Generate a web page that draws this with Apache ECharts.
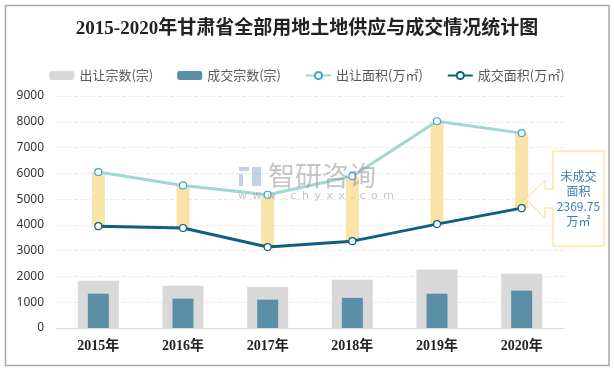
<!DOCTYPE html>
<html><head><meta charset="utf-8">
<script src="https://cdn.jsdelivr.net/npm/echarts@6/dist/echarts.min.js"></script>
<style>html,body{margin:0;padding:0;background:#fff}#c{width:614px;height:370px}</style>
</head><body><div id="c"></div>
<script>
const categories = ['2015年','2016年','2017年','2018年','2019年','2020年'];
const supplyCount = [1830, 1640, 1600, 1870, 2260, 2100];
const dealCount = [1330, 1140, 1100, 1170, 1330, 1450];
const supplyArea = [6050, 5530, 5170, 5890, 8020, 7560];
const dealArea = [3950, 3880, 3140, 3370, 4030, 4650];
const yTicks = {min: 0, max: 9000, interval: 1000};
const calloutText = '未成交\n面积\n2369.75\n万㎡';

const bandData = categories.map((c, i) => [i, dealArea[i], supplyArea[i]]);

const chart = echarts.init(document.getElementById('c'), null, {renderer: 'canvas'});
chart.setOption({
  animation: false,
  backgroundColor: '#fff',
  title: {
    text: '2015-2020年甘肃省全部用地土地供应与成交情况统计图',
    left: 'center', top: 15,
    textStyle: {fontFamily: '"Liberation Serif","Noto Sans CJK SC"', fontWeight: 'bold', fontSize: 19, color: '#222'}
  },
  legend: {
    top: 64, left: 'center', itemWidth: 25, itemHeight: 9, itemGap: 24,
    textStyle: {fontSize: 13, color: '#595959', fontFamily: '"Noto Sans CJK SC"'},
    data: ['出让宗数(宗)', '成交宗数(宗)', '出让面积(万㎡)', '成交面积(万㎡)']
  },
  grid: {left: 56, right: 50, top: 96, bottom: 42},
  xAxis: [{
    type: 'category', data: categories,
    axisLine: {lineStyle: {color: '#d9d9d9', width: 1}},
    axisTick: {show: false},
    axisLabel: {margin: 11, fontSize: 14, fontWeight: 'bold', color: '#222', fontFamily: '"Liberation Serif","Noto Sans CJK SC"'}
  }, {
    type: 'category', data: categories, show: false
  }],
  yAxis: {
    type: 'value', min: yTicks.min, max: yTicks.max, interval: yTicks.interval,
    axisLine: {show: false}, axisTick: {show: false},
    axisLabel: {margin: 12, fontSize: 12, color: '#333', fontFamily: '"Noto Sans"', formatter: v => String(v)},
    splitLine: {lineStyle: {color: '#ececec', type: 'dashed'}}
  },
  series: [
    {name: '出让宗数(宗)', type: 'bar', xAxisIndex: 0, data: supplyCount, barWidth: 41, itemStyle: {color: '#d9d9d9'}, z: 1},
    {name: '成交宗数(宗)', type: 'bar', xAxisIndex: 1, data: dealCount, barWidth: 21, itemStyle: {color: '#5b8fa7'}, z: 2},
    {
      name: 'band', type: 'custom', xAxisIndex: 0, data: bandData, z: 2,
      renderItem: function (params, api) {
        const lo = api.coord([api.value(0), api.value(1)]);
        const hi = api.coord([api.value(0), api.value(2)]);
        const w = 13;
        return {type: 'rect', shape: {x: lo[0] - w / 2, y: hi[1], width: w, height: lo[1] - hi[1]},
          style: {fill: '#f9e3a8'}};
      },
      encode: {x: 0, y: [1, 2]}, silent: true
    },
    {name: '出让面积(万㎡)', type: 'line', data: supplyArea, z: 4,
      lineStyle: {color: '#9fd8d2', width: 3}, itemStyle: {color: '#fff', borderColor: '#3aa6d6', borderWidth: 1.2},
      symbol: 'circle', symbolSize: 7, showAllSymbol: true},
    {name: '成交面积(万㎡)', type: 'line', data: dealArea, z: 4,
      lineStyle: {color: '#0e5f80', width: 3}, itemStyle: {color: '#fff', borderColor: '#0e5f80', borderWidth: 1.2},
      symbol: 'circle', symbolSize: 7, showAllSymbol: true}
  ],
  graphic: [
    {type: 'rect', shape: {x: 5.5, y: 5.5, width: 603.5, height: 360}, style: {fill: null, stroke: '#a9a9a9', lineWidth: 1.5}, silent: true, z: 100},
    {type: 'text', left: 268, top: 162, style: {text: '智研咨询', fontSize: 27, fill: 'rgba(150,150,150,0.55)', fontFamily: '"Noto Sans CJK SC"'}, z: 50},
    {type: 'text', left: 238, top: 191, style: {text: 'www.chyxx.com'.split('').join('\u2002'), fontSize: 11, fill: 'rgba(150,150,150,0.55)', fontFamily: '"DejaVu Sans"'}, z: 50},
    {type: 'rect', shape: {x: 239, y: 167, width: 10, height: 4}, style: {fill: 'rgba(140,165,205,0.5)'}, z: 50},
    {type: 'rect', shape: {x: 239, y: 174, width: 4, height: 12}, style: {fill: 'rgba(140,165,205,0.5)'}, z: 50},
    {type: 'rect', shape: {x: 252, y: 167, width: 9, height: 19}, style: {fill: 'rgba(140,165,205,0.5)'}, z: 50},
    {type: 'polygon', shape: {points: [[553,151],[604,151],[604,246],[553,246],[553,208],[545,208],[545,218],[526,199],[545,180],[545,189],[553,189]]},
      style: {fill: '#fff', stroke: '#fcd680', lineWidth: 1}, z: 60},
    {type: 'text', x: 578.5, y: 199, style: {text: calloutText, fontSize: 12, lineHeight: 15, fill: '#3b7fb0', align: 'center', verticalAlign: 'middle', fontFamily: '"Noto Sans CJK SC"'}, z: 61}
  ]
});
</script></body></html>
